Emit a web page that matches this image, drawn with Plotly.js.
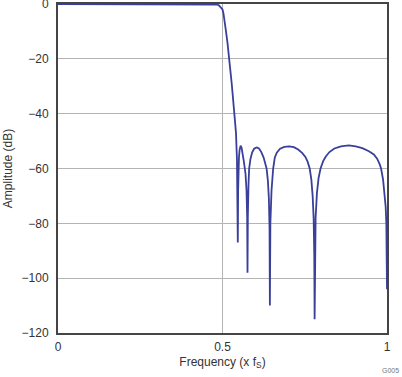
<!DOCTYPE html>
<html>
<head>
<meta charset="utf-8">
<script src="https://cdn.plot.ly/plotly-3.0.1.min.js"></script>
<style>html,body{margin:0;padding:0;background:#fff;}#chart{width:402px;height:377px;}</style>
</head>
<body>
<div id="chart"></div>
<script>
// Frequency (x fS) and amplitude (dB)
var freq = [
  0.000, 0.100, 0.200, 0.300, 0.400, 0.470, 0.480, 0.485, 0.490, 0.495, 0.500, 0.503, 0.506, 0.510, 0.515, 0.521, 0.528, 0.536, 0.541, 0.544, 0.5455, 0.5465,
  0.5475, 0.548, 0.550, 0.552, 0.555, 0.558, 0.561, 0.565, 0.570, 0.573, 0.575, 0.576,
  0.5770, 0.579, 0.581, 0.585, 0.590, 0.596, 0.6036, 0.611, 0.618, 0.625, 0.630, 0.634, 0.638, 0.641, 0.643, 0.644,
  0.6455, 0.649, 0.654, 0.659, 0.665, 0.675, 0.688, 0.7025, 0.717, 0.730, 0.742, 0.752, 0.759, 0.765, 0.770, 0.774, 0.777, 0.779, 0.780,
  0.781, 0.783, 0.787, 0.792, 0.798, 0.806, 0.814, 0.825, 0.840, 0.860, 0.884, 0.905, 0.925, 0.945, 0.960, 0.970, 0.978, 0.982, 0.988, 0.993, 0.996, 0.998, 0.9995, 1.000
];
var amplitude = [
  0, 0, 0, 0, 0, 0, -0.05, -0.2, -0.6, -1.2, -2.0, -3.5, -5.5, -9.4, -14, -20, -29, -40, -47, -57, -68, -87,
  -68, -62, -56, -53.2, -51.7, -52.4, -54.2, -57.5, -62, -68, -78, -98,
  -78, -66, -60, -56.5, -54.2, -52.8, -52.3, -52.7, -54, -56, -57.8, -60, -64.5, -71, -82, -110,
  -80, -68, -60, -56, -54.2, -52.8, -52.1, -51.9, -52.2, -53.1, -54.3, -55.8, -57.6, -60, -64, -70, -78, -92, -115,
  -90, -78, -69, -63.5, -60, -57.3, -55.6, -54, -52.7, -51.9, -51.6, -51.9, -52.6, -53.7, -54.9, -56.4, -58.5, -60, -64, -69, -74, -80, -92, -104
];
var xTicks = [0, 0.5, 1];
var xTickText = ['0', '0.5', '1'];
var yTicks = [0, -20, -40, -60, -80, -100, -120];

var trace = {
  x: freq, y: amplitude, type: 'scatter', mode: 'lines',
  line: {color: '#3a3f9a', width: 1.8},
  hoverinfo: 'skip', cliponaxis: true
};

var layout = {
  width: 402, height: 377,
  margin: {l: 57.5, r: 15, t: 4.3, b: 43.7, pad: 0},
  paper_bgcolor: '#ffffff', plot_bgcolor: '#ffffff',
  showlegend: false,
  font: {family: 'Liberation Sans, Arial, sans-serif', size: 12, color: '#333333'},
  xaxis: {
    range: [0, 1], tickvals: xTicks, ticktext: xTickText, ticks: '',
    showgrid: true, gridcolor: '#b4b4b4', gridwidth: 1.2,
    zeroline: false, showline: true, mirror: true, linecolor: '#454545', linewidth: 2,
    tickfont: {size: 12, color: '#333333'}, ticklabelstandoff: 2, ticklabeloverflow: 'allow',
    title: {text: 'Frequency (x f<sub>S</sub>)', font: {size: 12, color: '#333333'}, standoff: 4}
  },
  yaxis: {
    range: [-120, 0], tickvals: yTicks, ticks: '',
    showgrid: true, gridcolor: '#b4b4b4', gridwidth: 1.2,
    zeroline: false, showline: true, mirror: true, linecolor: '#454545', linewidth: 2,
    tickfont: {size: 12, color: '#333333'}, ticklabelstandoff: 5, ticklabeloverflow: 'allow',
    title: {text: 'Amplitude (dB)', font: {size: 12, color: '#333333'}, standoff: 6}
  },
  annotations: [{
    text: 'G005', xref: 'paper', yref: 'paper', x: 1, y: 0,
    xanchor: 'right', yanchor: 'top', xshift: 14, yshift: -32,
    showarrow: false, font: {size: 7, color: '#777777'}
  }]
};

Plotly.newPlot('chart', [trace], layout, {displayModeBar: false, staticPlot: true});
</script>
</body>
</html>
